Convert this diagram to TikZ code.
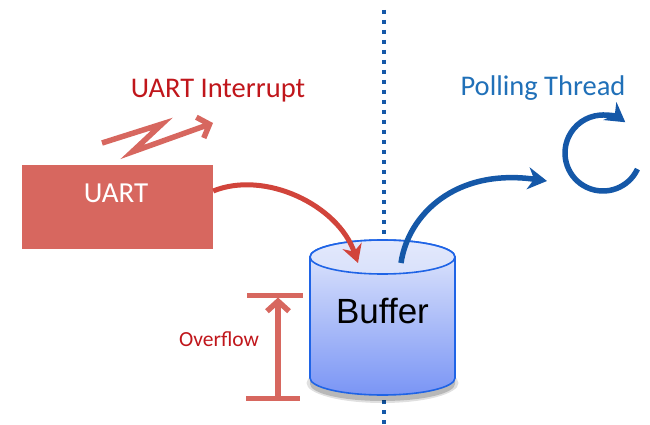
\documentclass[tikz,border=0pt]{standalone}
\usepackage{fontspec}
\setmainfont{Carlito}
\newfontfamily\arialfont{Liberation Sans}
\usetikzlibrary{arrows.meta,shapes.geometric,shadings}
\definecolor{uartfill}{HTML}{D7675F}
\definecolor{curvered}{HTML}{D1443B}
\definecolor{labelred}{HTML}{C0161B}
\definecolor{pollblue}{HTML}{1558A8}
\definecolor{labelblue}{HTML}{2070B8}
\definecolor{cylline}{HTML}{1F64E6}
\definecolor{cyltop}{HTML}{E3E9FC}
\definecolor{cylbot}{HTML}{7A95F5}
\tikzset{
  redlabel/.style={text=labelred},
  chevron/.style={draw=uartfill, line width=5.5pt, -{Straight Barb[length=10pt,width=22pt,line width=5.5pt]}},
  redcurve/.style={draw=curvered, line width=5pt, -{Stealth[length=18pt,width=20pt,inset=6pt]}},
  bluecurve/.style={draw=pollblue, line width=5.5pt, -{Stealth[length=19pt,width=22pt,inset=6pt]}},
}
\begin{document}
\begin{tikzpicture}[x=1pt,y=-1pt]
\useasboundingbox (0,0) rectangle (650,425);

% divider between interrupt and polling sides
\draw[pollblue, line width=4pt, dash pattern=on 4pt off 6pt] (384,10) -- (384,425);

% UART block
\node[fill=uartfill, minimum width=191pt, minimum height=84pt, inner sep=0pt] (uart) at (117.5,207) {};
\node[text=white, font=\fontsize{29}{29}\selectfont] (uartlbl) at (116,193) {UART};

% interrupt label and zigzag signal
\node[redlabel, font=\fontsize{28.5}{28.5}\selectfont] (intlbl) at (218,91) {UART Interrupt};
\coordinate (zz0) at (102,143);
\coordinate (zz1) at (162,124);
\coordinate (zz2) at (132,152);
\coordinate (zz3) at (213,123);
\draw[chevron, line join=miter] (zz0) -- (zz1) -- (zz2) -- (zz3);

% buffer cylinder with shadow
\fill[black, opacity=0.18] (310,384) -- (310,264) arc[start angle=180, end angle=360, x radius=72.5, y radius=17] -- (455,384) arc[start angle=0, end angle=180, x radius=72.5, y radius=17] -- cycle;
\fill[black, opacity=0.12] (382.5,383) ellipse[x radius=76, y radius=20];
\shade[top color=cyltop, bottom color=cylbot, draw=cylline, line width=1.6pt]
  (310,257) -- (310,378) arc[start angle=180, end angle=0, x radius=72.5, y radius=17] -- (455,257)
  arc[start angle=0, end angle=-180, x radius=72.5, y radius=17] -- cycle;
\draw[cylline, line width=1.6pt, fill=cyltop, fill opacity=0.6] (382.5,257) ellipse[x radius=72.5, y radius=17];
\node[font=\arialfont\fontsize{35}{35}\selectfont] (buffer) at (382.5,311) {Buffer};
\coordinate (bufin) at (358,263);
\coordinate (bufout) at (401,263);

% UART writes into the buffer
\draw[redcurve] (uart.east) ++(0,-16) .. controls (265,170) and (338,205) .. (bufin);

% polling side
\node[text=labelblue, font=\fontsize{28.5}{28.5}\selectfont] (polllbl) at (543,88) {Polling Thread};
\coordinate (pollin) at (547,181);
\draw[bluecurve] (bufout) .. controls (408,215) and (455,168) .. (pollin);
\coordinate (loopc) at (603,153);
\draw[draw=pollblue, line width=5.5pt, -{Stealth[length=19pt,width=22pt,inset=6pt]}]
  (loopc) ++(25:38) arc[start angle=25, end angle=306, radius=38];

% overflow marker
\coordinate (ovtop) at (278,295);
\coordinate (ovbot) at (278,398);
\draw[uartfill, line width=5pt] (247,295) -- (303,295);
\draw[uartfill, line width=5pt] (246,398) -- (300,398);
\draw[chevron, shorten >=2.5pt] (ovbot) -- (ovtop);
\node[redlabel, font=\fontsize{21.5}{21.5}\selectfont] (ovlbl) at (219,339) {Overflow};
\end{tikzpicture}
\end{document}
